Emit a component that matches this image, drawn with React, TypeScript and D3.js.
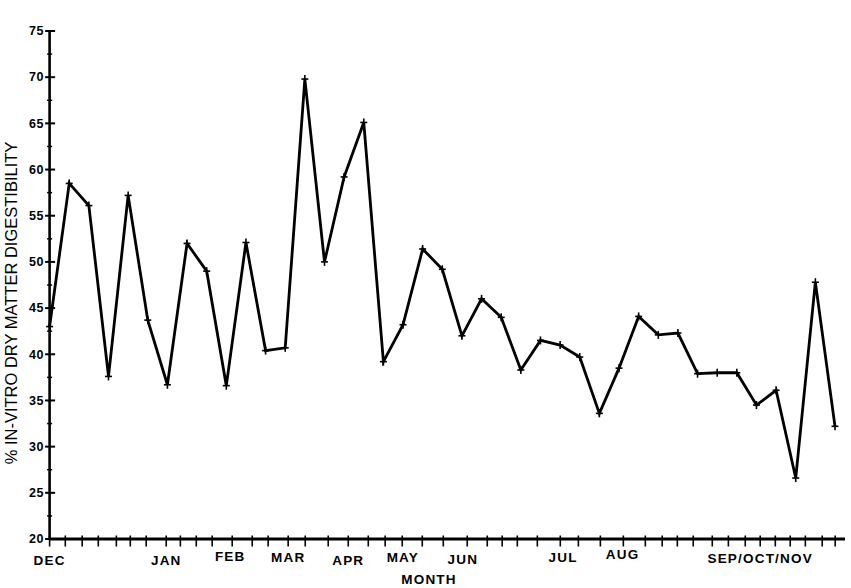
import React, { useEffect, useRef } from "react";
import * as d3 from "d3";

// sample values, one per sampling date (equal spacing along the x axis)
const digestibility = [
  43.0, 58.5, 56.1, 37.6, 57.2, 43.7, 36.7, 52.0, 49.0, 36.6, 52.1, 40.4,
  40.7, 69.8, 50.0, 59.2, 65.1, 39.2, 43.2, 51.4, 49.2, 42.0, 46.0, 44.0,
  38.3, 41.5, 41.0, 39.7, 33.6, 38.5, 44.1, 42.1, 42.3, 37.9, 38.0, 38.0,
  34.5, 36.1, 26.6, 47.8, 32.2,
];

// x-axis tick marks, in sample-index units
const xTicks = [
  0, 0.8, 1.66, 2.48, 3.4, 4.11, 4.92, 5.94, 6.66, 7.47, 8.28, 9.3, 10.32,
  11.13, 12.15, 13.02, 14.19, 15.21, 16.23, 17.09, 17.96, 18.98, 20.05, 21.27,
  22.29, 23.05, 23.82, 24.84, 26.01, 26.93, 28.05, 29.22, 30.34, 31.2, 31.97,
  32.78, 33.75, 34.57, 35.43, 36.19, 36.96, 37.72, 38.49, 39.35, 40.01,
];

const monthLabels = ["DEC", "JAN", "FEB", "MAR", "APR", "MAY", "JUN", "JUL", "AUG", "SEP/OCT/NOV"];
const monthPos = [0, 5.94, 9.2, 12.15, 15.21, 17.99, 21.05, 26.15, 29.18, 36.19];
const monthLift = [0, 0, 3.5, 2.5, 0, 2.5, 1, 2.5, 6, 2];

const yTicks = [20, 25, 30, 35, 40, 45, 50, 55, 60, 65, 70, 75];
const yMinorTicks = [22.5, 27.5, 32.5, 37.5, 42.5, 47.5, 52.5, 57.5, 62.5, 67.5, 72.5];

const App = () => {
  const ref = useRef<SVGSVGElement>(null);

  useEffect(() => {
    const width = 851,
      height = 588;
    const svg = d3.select(ref.current);
    svg.selectAll("*").remove();
    svg.attr("width", width).attr("height", height);

    const x = d3.scaleLinear().domain([0, 40]).range([49.6, 835]);
    const y = d3.scaleLinear().domain([20, 75]).range([539, 31]);
    const font = "'Liberation Sans', Arial, sans-serif";

    // y axis
    svg
      .append("line")
      .attr("x1", x(0))
      .attr("x2", x(0))
      .attr("y1", y(75))
      .attr("y2", y(20))
      .attr("stroke", "#000")
      .attr("stroke-width", 2.6);

    svg
      .selectAll(".ytick")
      .data(yTicks)
      .enter()
      .append("line")
      .attr("x1", x(0) - 4.5)
      .attr("x2", x(0) + 5.5)
      .attr("y1", (d) => y(d))
      .attr("y2", (d) => y(d))
      .attr("stroke", "#000")
      .attr("stroke-width", 2);

    svg
      .selectAll(".yminor")
      .data(yMinorTicks)
      .enter()
      .append("line")
      .attr("x1", x(0) - 2.5)
      .attr("x2", x(0) + 2.5)
      .attr("y1", (d) => y(d))
      .attr("y2", (d) => y(d))
      .attr("stroke", "#000")
      .attr("stroke-width", 1.5);

    svg
      .selectAll(".ylabel")
      .data(yTicks)
      .enter()
      .append("text")
      .attr("x", x(0) - 5.5)
      .attr("y", (d) => y(d) + 4.3)
      .attr("text-anchor", "end")
      .style("font-family", font)
      .style("font-weight", "bold")
      .style("font-size", "12.5px")
      .style("letter-spacing", "0.6px")
      .text((d) => d);

    // x axis
    svg
      .append("line")
      .attr("x1", x(0))
      .attr("x2", 845)
      .attr("y1", y(20))
      .attr("y2", y(20))
      .attr("stroke", "#000")
      .attr("stroke-width", 3);

    svg
      .selectAll(".xtick")
      .data(xTicks)
      .enter()
      .append("line")
      .attr("x1", (d) => x(d))
      .attr("x2", (d) => x(d))
      .attr("y1", y(20) - 3.5)
      .attr("y2", y(20) + 7.5)
      .attr("stroke", "#000")
      .attr("stroke-width", 1.6);

    svg
      .selectAll(".xlabel")
      .data(monthLabels)
      .enter()
      .append("text")
      .attr("x", (d, i) => x(monthPos[i]))
      .attr("y", (d, i) => 564.5 - monthLift[i])
      .attr("text-anchor", "middle")
      .style("font-family", font)
      .style("font-weight", "bold")
      .style("font-size", "13.5px")
      .style("letter-spacing", "1.2px")
      .text((d) => d);

    // axis titles
    svg
      .append("text")
      .attr("x", 429)
      .attr("y", 583.5)
      .attr("text-anchor", "middle")
      .style("font-family", font)
      .style("font-weight", "bold")
      .style("font-size", "13.5px")
      .style("letter-spacing", "1.2px")
      .text("MONTH");

    svg
      .append("text")
      .attr("transform", "rotate(-90)")
      .attr("x", -303)
      .attr("y", 17)
      .attr("text-anchor", "middle")
      .style("font-family", font)
      .style("font-size", "16.5px")
      .text("% IN-VITRO DRY MATTER DIGESTIBILITY");

    // the series line
    const line = d3
      .line<number>()
      .x((d, i) => x(i))
      .y((d) => y(d));

    svg
      .append("path")
      .datum(digestibility)
      .attr("d", line)
      .attr("fill", "none")
      .attr("stroke", "#000")
      .attr("stroke-width", 2.8)
      .attr("stroke-linejoin", "miter");

    // small plus markers
    const marks = svg
      .selectAll(".mark")
      .data(digestibility)
      .enter()
      .append("g")
      .attr("transform", (d, i) => `translate(${x(i)},${y(d)})`);
    marks
      .append("line")
      .attr("x1", -3.5)
      .attr("x2", 3.5)
      .attr("stroke", "#000")
      .attr("stroke-width", 1.6);
    marks
      .append("line")
      .attr("y1", -4)
      .attr("y2", 4)
      .attr("stroke", "#000")
      .attr("stroke-width", 1.6);
  }, []);

  return (
    <div style={{ position: "absolute", left: 0, top: 0, background: "#fff" }}>
      <svg ref={ref} style={{ display: "block" }}></svg>
    </div>
  );
};

export default App;
